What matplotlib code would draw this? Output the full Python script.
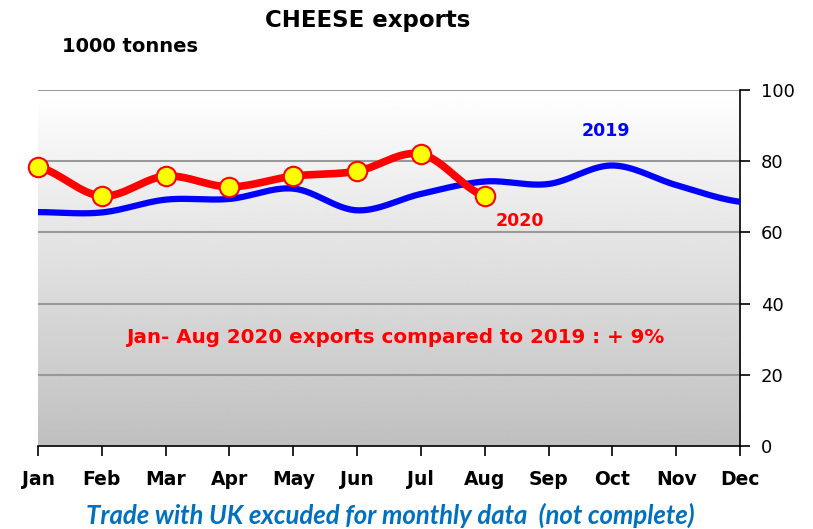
import numpy as np
import matplotlib.pyplot as plt

months = ['Jan', 'Feb', 'Mar', 'Apr', 'May', 'Jun',
          'Jul', 'Aug', 'Sep', 'Oct', 'Nov', 'Dec']
exports_2019 = [65.7, 65.6, 69.2, 69.4, 72.3, 66.2, 70.8, 74.3, 73.6, 78.8, 73.3, 68.6]
exports_2020 = [78.4, 70.2, 75.8, 72.8, 75.8, 77.2, 82.0, 70.2]


def smooth(y, n=30):
    # Catmull-Rom spline through the points, like Excel's smoothed line
    y = np.asarray(y, dtype=float)
    p = np.concatenate([[y[0]], y, [y[-1]]])
    xs, ys = [], []
    for i in range(len(y) - 1):
        p0, p1, p2, p3 = p[i], p[i + 1], p[i + 2], p[i + 3]
        t = np.linspace(0, 1, n, endpoint=False)
        yy = 0.5 * (2 * p1 + (-p0 + p2) * t + (2 * p0 - 5 * p1 + 4 * p2 - p3) * t ** 2
                    + (-p0 + 3 * p1 - 3 * p2 + p3) * t ** 3)
        xs.append(i + t)
        ys.append(yy)
    xs.append([len(y) - 1])
    ys.append([y[-1]])
    return np.concatenate(xs), np.concatenate(ys)


fig = plt.figure(figsize=(8.13, 5.29), dpi=100)
ax = fig.add_axes([38 / 813, 83 / 529, 702 / 813, 356 / 529])

# gradient background white -> gray
grad = np.linspace(1.0, 0.75, 256).reshape(-1, 1)
ax.imshow(grad, cmap='gray', vmin=0, vmax=1, aspect='auto',
          extent=[0, 11, 0, 100], zorder=0)

x = np.arange(len(months))
for v in [20, 40, 60, 80, 100]:
    ax.axhline(v, color='#999999', lw=1.5, zorder=1)

sx, sy = smooth(exports_2019)
ax.plot(sx, sy, color='#0000FF', lw=4.5, solid_capstyle='butt', zorder=3)
sx, sy = smooth(exports_2020)
ax.plot(sx, sy, color='#FF0000', lw=5.5, solid_capstyle='butt', zorder=4)
ax.plot(x[:len(exports_2020)], exports_2020, 'o', ms=14, mfc='#FFFF00',
        mec='#FF0000', mew=1.5, zorder=5, clip_on=False)

ax.set_xlim(0, 11)
ax.set_ylim(0, 100)
ax.set_xticks(x)
ax.set_xticklabels(months, fontsize=13.5, fontweight='bold')
ax.tick_params(axis='x', length=7, width=1.2, pad=10)
ax.yaxis.tick_right()
ax.set_yticks([0, 20, 40, 60, 80, 100])
ax.tick_params(axis='y', labelsize=13, length=7, width=1.2, pad=8)
for s in ['top', 'left']:
    ax.spines[s].set_visible(False)
ax.spines['right'].set_linewidth(1.2)
ax.spines['bottom'].set_linewidth(1.2)

fig.text(368 / 813, 1 - 20 / 529, 'CHEESE exports', ha='center', va='center',
         fontsize=16.5, fontweight='bold')
fig.text(62 / 813, 1 - 47 / 529, '1000 tonnes', ha='left', va='center',
         fontsize=14, fontweight='bold')
ax.text(8.9, 88.5, '2019', color='#0000FF', fontsize=12.5, fontweight='bold',
        ha='center', va='center')
ax.text(7.55, 63.3, '2020', color='#FF0000', fontsize=12.5, fontweight='bold',
        ha='center', va='center')
ax.text(5.6, 30.5, 'Jan- Aug 2020 exports compared to 2019 : + 9%', color='#FF0000',
        fontsize=14.3, fontweight='bold', ha='center', va='center')
fig.text(390 / 813, 1 - 515 / 529, 'Trade with UK excuded for monthly data  (not complete)',
         color='#0070C0', fontsize=18.5, fontweight='bold', style='italic',
         family='Lato', ha='center', va='center')

fig.savefig('out.png', dpi=100)
